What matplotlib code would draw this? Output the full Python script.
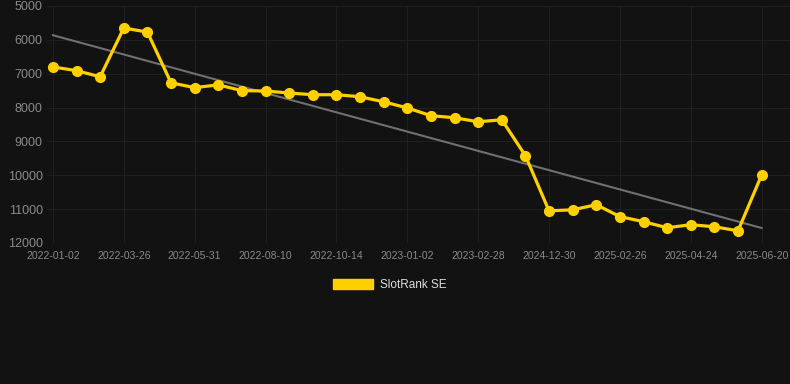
import numpy as np
import matplotlib.pyplot as plt

plt.rcParams['font.family'] = ['Liberation Sans', 'DejaVu Sans']

ranks = [6800, 6910, 7090, 5650, 5770, 7270, 7410, 7330, 7500, 7510,
         7570, 7620, 7620, 7680, 7830, 8010, 8240, 8300, 8420, 8360,
         9420, 11050, 11020, 10870, 11220, 11370, 11550, 11460, 11520, 11640,
         9990]
tick_labels = ['2022-01-02', '2022-03-26', '2022-05-31', '2022-08-10', '2022-10-14',
               '2023-01-02', '2023-02-28', '2024-12-30', '2025-02-26', '2025-04-24',
               '2025-06-20']
tick_every = 3

x = np.arange(len(ranks))
bg = '#121212'

fig = plt.figure(figsize=(7.9, 3.84), dpi=100, facecolor=bg)
ax = fig.add_axes([47 / 790, 1 - 243 / 384, 1 - 47 / 790, (243 - 6) / 384])
ax.set_facecolor(bg)

# trend line (least squares fit of the series)
k, b = np.polyfit(x, ranks, 1)
ax.plot([x[0], x[-1]], [k * x[0] + b, k * x[-1] + b], color='#707070', lw=1.5, zorder=2)

ax.plot(x, ranks, color='#FFD000', lw=2.3, marker='o', markersize=7,
        label='SlotRank SE', zorder=3)

ax.set_ylim(12000, 5000)
ax.set_yticks(range(5000, 12001, 1000))
ax.set_xlim(-0.25, 31.2)
ax.set_xticks(x[::tick_every])
ax.set_xticklabels(tick_labels)

ax.grid(True, color='#1f1f1f', lw=0.8)
ax.set_axisbelow(True)
for s in ax.spines.values():
    s.set_visible(False)
ax.tick_params(axis='y', colors='#8a8a8a', labelsize=9, length=0, pad=3)
ax.tick_params(axis='x', colors='#8a8a8a', labelsize=7.5, length=0, pad=6)

handle = plt.Rectangle((0, 0), 1, 1, color='#FFD000')
leg = fig.legend([handle], ['SlotRank SE'], loc='center', bbox_to_anchor=(0.493, 1 - 285 / 384),
                 frameon=False, fontsize=8.5, handlelength=3.4, handleheight=1.0,
                 handletextpad=0.6)
for t in leg.get_texts():
    t.set_color('#dddddd')

fig.savefig('out.png', dpi=100, facecolor=bg)
